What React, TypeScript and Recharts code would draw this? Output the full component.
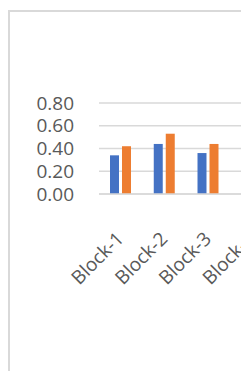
import { BarChart, Bar, XAxis, YAxis, CartesianGrid } from 'recharts';

const categories = ['Block-1', 'Block-2', 'Block-3', 'Block-4'];
const seriesA = [0.34, 0.44, 0.36, 0.23];
const seriesB = [0.42, 0.53, 0.44, 0.28];
const yTicks = [0, 0.2, 0.4, 0.6, 0.8];

const data = categories.map((name, i) => ({ name, a: seriesA[i], b: seriesB[i] }));

const FONT = '"Open Sans", sans-serif';
const TEXT = '#595959';

function XTick({ x, y, payload }: any) {
  return (
    <g transform={`translate(${x + 4},${y + 44})`}>
      <text
        x={0}
        y={0}
        transform="rotate(-45)"
        textAnchor="end"
        fill={TEXT}
        fontSize={19}
        fontFamily={FONT}
      >
        {payload.value}
      </text>
    </g>
  );
}

export default function App() {
  return (
    <div style={{ width: 241, height: 361, overflow: 'hidden', marginTop: 2 }}>
      <div
        style={{
          width: 320,
          height: 420,
          border: '2px solid #d9d9d9',
          boxSizing: 'border-box',
          background: '#fff',
        }}
      >
        <BarChart
          width={264}
          height={416}
          data={data}
          margin={{ top: 91, right: 0, left: 0, bottom: 134 }}
          barGap={3}
          barCategoryGap={11}
        >
          <CartesianGrid vertical={false} stroke="#d9d9d9" strokeWidth={1.5} />
          <XAxis
            dataKey="name"
            axisLine={{ stroke: '#d9d9d9', strokeWidth: 1.5 }}
            tickLine={false}
            tickSize={0}
            height={100}
            interval={0}
            tick={<XTick />}
          />
          <YAxis
            width={89}
            domain={[0, 0.8]}
            ticks={yTicks}
            interval={0}
            axisLine={false}
            tickLine={false}
            tickSize={0}
            tickMargin={25}
            tickFormatter={(v) => Number(v).toFixed(2)}
            tick={{ fill: TEXT, fontSize: 19, fontFamily: FONT }}
          />
          <Bar dataKey="a" fill="#4472C4" isAnimationActive={false} />
          <Bar dataKey="b" fill="#ED7D31" isAnimationActive={false} />
        </BarChart>
      </div>
    </div>
  );
}
